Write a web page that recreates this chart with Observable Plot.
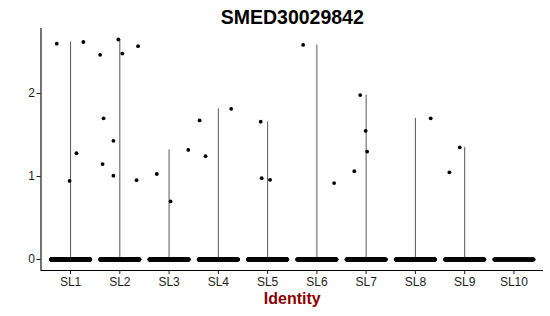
<!DOCTYPE html>
<html>
<head>
<meta charset="utf-8">
<script src="https://cdn.jsdelivr.net/npm/d3@7"></script>
<script src="https://cdn.jsdelivr.net/npm/@observablehq/plot@0.6"></script>
<style>
  html, body { margin: 0; padding: 0; background: #fff; }
  #chart { width: 550px; height: 316px; }
</style>
</head>
<body>
<div id="chart"></div>
<script>
// ---- data ----
const title = "SMED30029842";
const xLabel = "Identity";
const categories = ["SL1", "SL2", "SL3", "SL4", "SL5", "SL6", "SL7", "SL8", "SL9", "SL10"];
const yTicks = [0, 1, 2];

// non-zero cells: cluster, expression value, horizontal jitter (in category units)
const pointGroup  = ["SL1","SL1","SL1","SL1",
                     "SL2","SL2","SL2","SL2","SL2","SL2","SL2","SL2","SL2",
                     "SL3","SL3","SL3",
                     "SL4","SL4","SL4",
                     "SL5","SL5","SL5",
                     "SL6","SL6",
                     "SL7","SL7","SL7","SL7",
                     "SL8",
                     "SL9","SL9"];
const pointValue  = [2.60, 2.62, 1.28, 0.947,
                     2.465, 2.65, 2.48, 2.57, 1.70, 1.43, 1.15, 1.01, 0.955,
                     1.03, 0.70, 1.32,
                     1.675, 1.245, 1.815,
                     1.66, 0.98, 0.96,
                     2.585, 0.92,
                     1.98, 1.55, 1.30, 1.064,
                     1.70,
                     1.35, 1.05];
const pointJitter = [-0.28, 0.26, 0.12, -0.02,
                     -0.40, -0.03, 0.05, 0.37, -0.33, -0.13, -0.35, -0.13, 0.34,
                     -0.25, 0.03, 0.39,
                     -0.38, -0.26, 0.26,
                     -0.14, -0.12, 0.05,
                     -0.28, 0.35,
                     -0.12, -0.01, 0.02, -0.24,
                     0.31,
                     -0.10, -0.31];

// number of zero-expression cells per cluster (dense band at 0)
const zeroCounts = [300, 340, 280, 260, 240, 250, 240, 230, 200, 120];
const jitterWidth = 0.4;

// ---- build tables ----
const idx = new Map(categories.map((c, i) => [c, i + 1]));
const nonzero = pointGroup.map((g, i) => ({g, i: idx.get(g), v: pointValue[i], j: pointJitter[i]}));
const zeros = [];
zeroCounts.forEach((n, k) => {
  for (let m = 0; m < n; ++m) {
    zeros.push({g: categories[k], i: k + 1, v: 0, j: -jitterWidth + (2 * jitterWidth * m) / (n - 1)});
  }
});
const all = zeros.concat(nonzero);
const maxima = categories.map((c, k) => ({i: k + 1, max: d3.max(all.filter(d => d.g === c), d => d.v)}))
  .filter(d => d.max > 0);

const vMin = 0, vMax = d3.max(pointValue);
const pad = 0.05 * (vMax - vMin);
const yDomain = [vMin - pad, vMax + pad];
const xDomain = [1 - 0.6, categories.length + 0.6];

const chart = Plot.plot({
  width: 550,
  height: 316,
  marginTop: 28,
  marginBottom: 46,
  marginLeft: 40.5,
  marginRight: 7,
  style: {fontFamily: "'Liberation Sans', Arial, sans-serif", fontSize: "12px", color: "#1a1a1a", background: "#fff"},
  x: {domain: xDomain},
  y: {domain: yDomain},
  marks: [
    Plot.ruleX(maxima, {x: "i", y1: 0, y2: "max", stroke: "#444", strokeWidth: 0.9}),
    Plot.dot(all, {x: d => d.i + d.j, y: "v", r: 1.9, fill: "#000", stroke: null}),
    Plot.ruleY([yDomain[0]], {stroke: "#000", strokeWidth: 1.1}),
    Plot.ruleX([xDomain[0]], {stroke: "#000", strokeWidth: 1.1}),
    Plot.axisY({ticks: yTicks, tickFormat: d => String(d), tickSize: 4, tickPadding: 2, label: null, fontSize: 12}),
    Plot.axisX({ticks: categories.map((c, k) => k + 1), tickFormat: t => categories[t - 1], tickSize: 4, tickPadding: 3, label: null, fontSize: 12}),
    Plot.text([title], {frameAnchor: "top", lineAnchor: "bottom", dy: -5, fontSize: 19.5, fontWeight: "bold", fill: "#000", text: d => d}),
    Plot.text([xLabel], {frameAnchor: "bottom", lineAnchor: "bottom", dy: 33, fontSize: 16, fontWeight: "bold", fill: "#8B0000", text: d => d})
  ]
});
document.getElementById("chart").appendChild(chart);
</script>
</body>
</html>
